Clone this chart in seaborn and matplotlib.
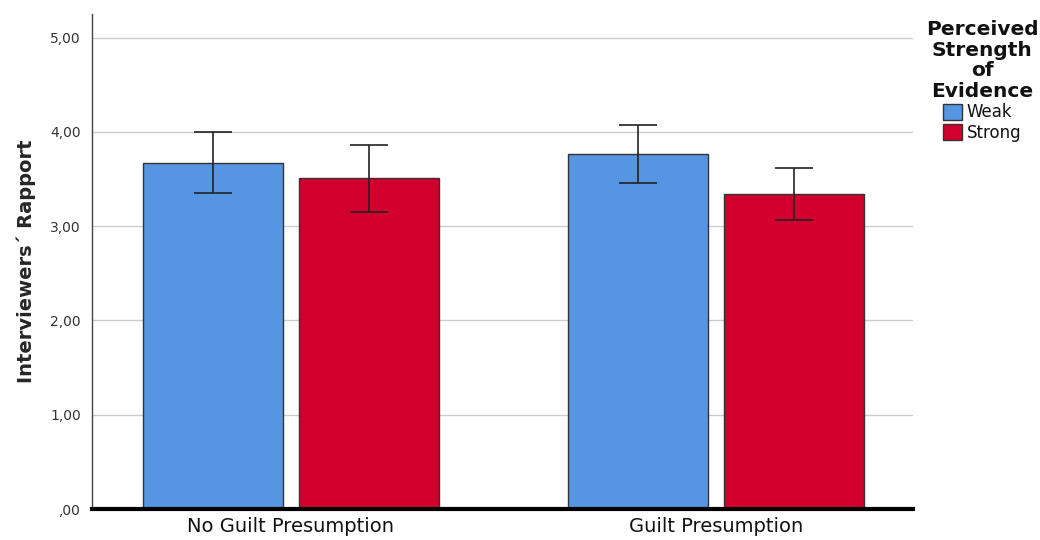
import pandas as pd
import matplotlib.pyplot as plt
import seaborn as sns

################################################################################

groups = ['No Guilt Presumption', 'Guilt Presumption']
evidence = ['Weak', 'Strong']

weak_mean = [3.67, 3.77]
weak_low = [3.35, 3.46]
weak_high = [4.00, 4.07]

strong_mean = [3.51, 3.34]
strong_low = [3.15, 3.07]
strong_high = [3.86, 3.62]

ytick_values = [0, 1, 2, 3, 4, 5]
ytick_labels = [',00', '1,00', '2,00', '3,00', '4,00', '5,00']

palette = {'Weak': '#5595E2', 'Strong': '#D3002E'}

################################################################################

df = pd.DataFrame({
    'group': groups + groups,
    'evidence': [evidence[0]] * 2 + [evidence[1]] * 2,
    'rapport': weak_mean + strong_mean,
    'low': weak_low + strong_low,
    'high': weak_high + strong_high,
})

sns.set_style('white')
plt.rcParams['font.family'] = ['DejaVu Sans']

fig = plt.figure(figsize = (10.4, 5.4), dpi = 100)
ax = fig.add_axes([0.0885, 0.0574, 0.7895, 0.9166])

ax.yaxis.grid(True, color = '#cccccc', linewidth = 1)
ax.set_axisbelow(True)

sns.barplot(
    data = df, x = 'group', y = 'rapport', hue = 'evidence',
    order = groups, hue_order = evidence, palette = palette,
    width = 0.734, gap = 0.1, errorbar = None, saturation = 1,
    edgecolor = '#333333', linewidth = 1, ax = ax
)

# error bars from the precomputed intervals, centred on each bar
for container, name in zip(ax.containers, evidence):
    sub = df[df.evidence == name].set_index('group').loc[groups]
    xs = [p.get_x() + p.get_width() / 2 for p in container.patches]
    ax.errorbar(
        xs, sub.rapport,
        yerr = [sub.rapport - sub.low, sub.high - sub.rapport],
        fmt = 'none', ecolor = '#222222', elinewidth = 1.2,
        capsize = 14, capthick = 1.2, zorder = 5
    )

ax.set_xlim(-0.468, 1.464)
ax.set_ylim(0, 5.25)
ax.set_yticks(ytick_values)
ax.set_yticklabels(ytick_labels)
ax.tick_params(axis = 'y', length = 0, pad = 8, labelsize = 10, labelcolor = '#333333')
ax.tick_params(axis = 'x', length = 0, pad = 6, labelsize = 14, labelcolor = '#111111')

ax.set_xlabel('')
ax.set_ylabel('Interviewers´ Rapport', fontsize = 14, fontweight = 'bold', labelpad = 10)

for side in ['top', 'right']:
    ax.spines[side].set_visible(False)
ax.spines['left'].set_color('#444444')
ax.spines['left'].set_linewidth(1)
ax.spines['bottom'].set_color('black')
ax.spines['bottom'].set_linewidth(3)

handles, labels = ax.get_legend_handles_labels()
leg = ax.legend(
    handles, labels,
    title = 'Perceived\nStrength\nof\nEvidence',
    loc = 'upper left', bbox_to_anchor = (0.884, 0.975),
    bbox_transform = fig.transFigure, frameon = False,
    fontsize = 12, handlelength = 1.1, handleheight = 1.1,
    handletextpad = 0.3, labelspacing = 0.15, borderaxespad = 0,
    alignment = 'center', labelcolor = '#111111'
)
plt.setp(leg.get_title(), fontsize = 14.5, fontweight = 'bold', color = '#111111',
         multialignment = 'center', linespacing = 1.1)

fig.savefig('out.png', dpi = 100)
